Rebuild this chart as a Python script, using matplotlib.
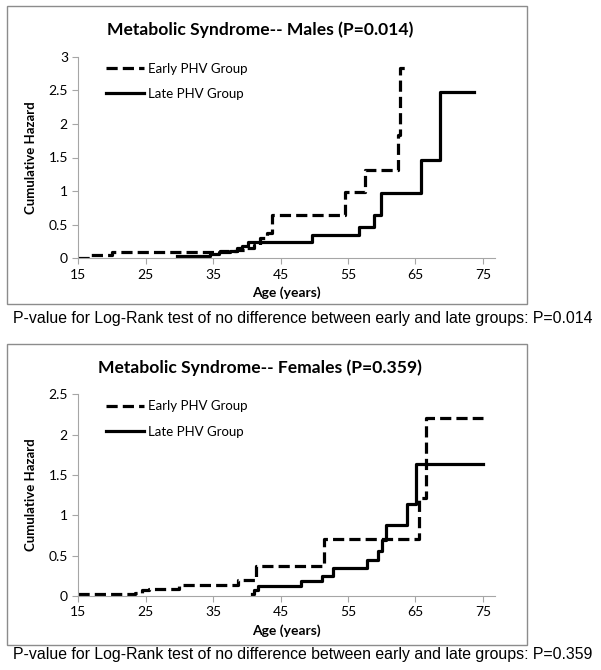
import matplotlib
matplotlib.use("Agg")
import matplotlib.pyplot as plt
from matplotlib.patches import Rectangle

# males, cumulative hazard step points (age, value)
male_early_age = [15, 16.8, 20, 36, 38.5, 40, 41, 42, 43, 43.8, 54.6, 57.5, 62.4, 62.7, 64.1]
male_early_h = [0.01, 0.05, 0.1, 0.11, 0.12, 0.15, 0.2, 0.3, 0.37, 0.65, 0.98, 1.32, 1.83, 2.83, 2.83]
male_late_age = [29.6, 34.5, 35.8, 37.5, 38.5, 39.3, 40.2, 49.7, 56.6, 58.8, 59.9, 65.8, 68.6, 73.7]
male_late_h = [0.04, 0.07, 0.09, 0.11, 0.15, 0.19, 0.24, 0.34, 0.46, 0.64, 0.97, 1.46, 2.47, 2.47]

# females
fem_early_age = [15, 23.4, 24.5, 25.5, 30, 38.7, 41.4, 51.4, 65.5, 66.5, 75]
fem_early_h = [0.02, 0.04, 0.07, 0.09, 0.14, 0.2, 0.37, 0.71, 1.21, 2.21, 2.21]
fem_late_age = [40.7, 41.0, 41.6, 48.1, 51.2, 52.7, 57.8, 59.4, 60.1, 60.7, 63.8, 65.1, 75]
fem_late_h = [0.03, 0.07, 0.12, 0.18, 0.25, 0.35, 0.45, 0.56, 0.7, 0.88, 1.14, 1.63, 1.63]

xticks = [15, 25, 35, 45, 55, 65, 75]
male_yticks = [0, 0.5, 1, 1.5, 2, 2.5, 3]
fem_yticks = [0, 0.5, 1, 1.5, 2, 2.5]

panels = [
    ("Metabolic Syndrome-- Males (P=0.014)", male_early_age, male_early_h,
     male_late_age, male_late_h, male_yticks, 3,
     "P-value for Log-Rank test of no difference between early and late groups: P=0.014"),
    ("Metabolic Syndrome-- Females (P=0.359)", fem_early_age, fem_early_h,
     fem_late_age, fem_late_h, fem_yticks, 2.5,
     "P-value for Log-Rank test of no difference between early and late groups: P=0.359"),
]

W, H = 601, 670
fig = plt.figure(figsize=(W / 100, H / 100), dpi=100)
gray = "#a6a6a6"

# pixel layout of each panel: box top, box bottom, axis top, axis bottom, caption y
layout = [(6, 304, 56.7, 258.3, 318), (344, 645, 394.3, 596, 654)]

for (title, ea, eh, la, lh, yt, ymax, cap), (bt, bb, at, ab, cy) in zip(panels, layout):
    fig.patches.append(Rectangle((7 / W, 1 - bb / H), (527 - 7) / W, (bb - bt) / H,
                                 transform=fig.transFigure, fill=False,
                                 edgecolor="#8c8c8c", linewidth=1))
    ax = fig.add_axes([78.3 / W, 1 - ab / H, (495 - 78.3) / W, (ab - at) / H])
    ax.step(ea, eh, where="post", color="black", lw=2.3, dashes=(3.5, 1.6),
            label="Early PHV Group")
    ax.step(la, lh, where="post", color="black", lw=2.3, label="Late PHV Group")
    ax.set_xlim(15, 76.8)
    ax.set_ylim(0, ymax)
    ax.set_xticks(xticks)
    ax.set_yticks(yt)
    ax.set_yticklabels([f"{v:g}" for v in yt])
    for s in ["top", "right"]:
        ax.spines[s].set_visible(False)
    for s in ["left", "bottom"]:
        ax.spines[s].set_color(gray)
    ax.tick_params(colors=gray, labelcolor="black", labelsize=10, length=4,
                   direction="out")
    for lab in ax.get_xticklabels() + ax.get_yticklabels():
        lab.set_family("Lato")
    ax.set_xlabel("Age (years)", fontsize=10, fontweight="bold", family="Lato",
                  labelpad=4)
    ax.set_ylabel("Cumulative Hazard", fontsize=9.5, fontweight="bold",
                  family="Lato", labelpad=8)
    ax.legend(loc="upper left", bbox_to_anchor=(0.066, 0.97), frameon=False,
              borderpad=0, borderaxespad=0, handlelength=2.9, handletextpad=0.3,
              labelspacing=1.0, prop={"family": "Lato", "size": 9.5})
    fig.text(260 / W, 1 - (bt + 24) / H, title, ha="center", va="center",
             fontsize=12.6, fontweight="bold", family="Lato")
    fig.text(303 / W, 1 - cy / H, cap, ha="center", va="center",
             fontsize=11.4, family="Liberation Sans")

fig.savefig("out.png", dpi=100)
